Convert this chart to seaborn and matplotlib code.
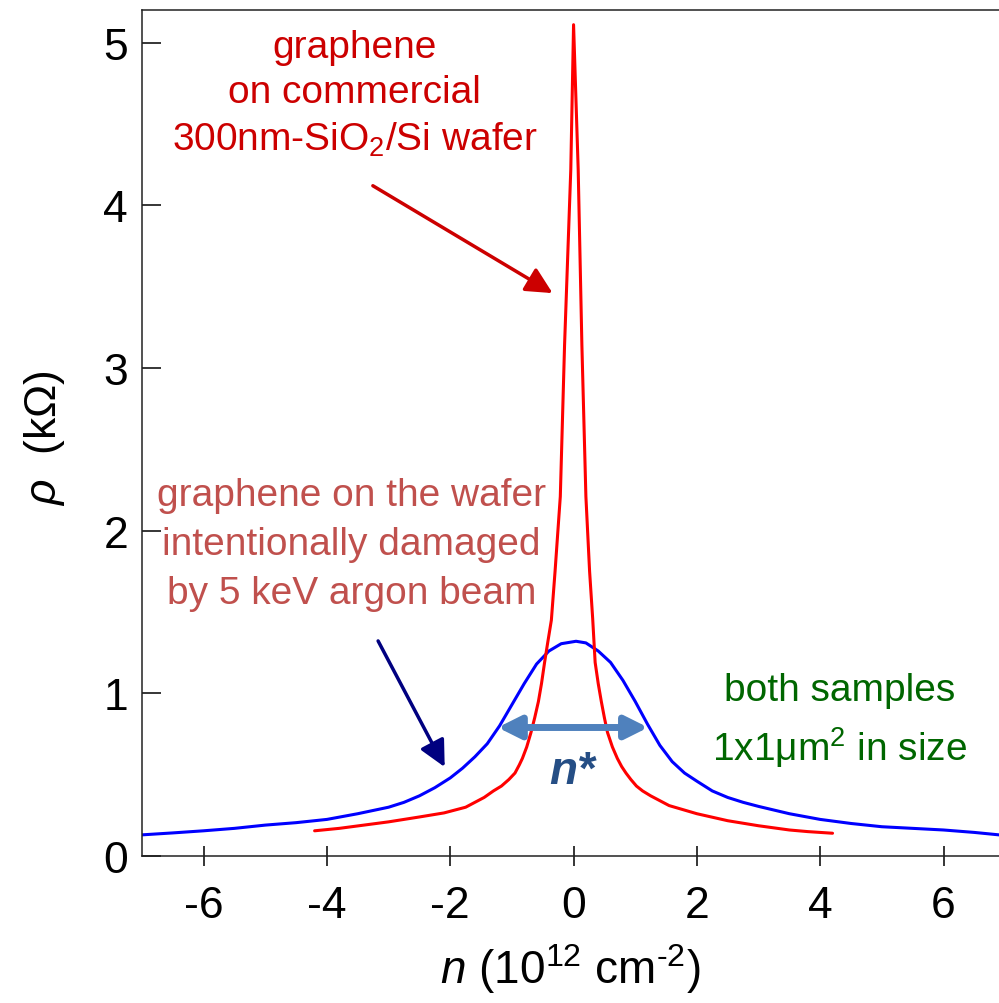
import numpy as np
import pandas as pd
import matplotlib
matplotlib.use("Agg")
import matplotlib.pyplot as plt
import seaborn as sns

# valeurs : n en 10^12 cm^-2, rho en kOhm
n_pristine = [-4.2, -3.8, -3.5, -3.0, -2.5, -2.1, -1.75, -1.45, -1.3, -1.17,
              -1.05, -0.95, -0.88, -0.83, -0.76, -0.69, -0.63, -0.57, -0.52,
              -0.47, -0.42, -0.36, -0.30, -0.215, -0.146, -0.045, 0.0,
              0.075, 0.135, 0.20, 0.26, 0.31, 0.35, 0.40, 0.45, 0.50, 0.55,
              0.63, 0.71, 0.78, 0.85, 0.93, 1.02, 1.12, 1.25, 1.55, 2.0,
              2.5, 3.0, 3.5, 3.8, 4.2]
rho_pristine = [0.155, 0.17, 0.185, 0.21, 0.24, 0.265, 0.30, 0.36, 0.40, 0.43,
                0.47, 0.51, 0.56, 0.60, 0.67, 0.76, 0.85, 0.95, 1.06,
                1.19, 1.31, 1.45, 1.75, 2.21, 3.14, 4.22, 5.11,
                4.22, 3.14, 2.21, 1.75, 1.46, 1.19, 1.06, 0.95, 0.85, 0.76,
                0.67, 0.60, 0.55, 0.51, 0.47, 0.43, 0.40, 0.37, 0.31, 0.26,
                0.217, 0.186, 0.16, 0.15, 0.14]

n_damaged = [-7.0, -6.5, -6.0, -5.5, -5.0, -4.5, -4.0, -3.5, -3.0, -2.75,
             -2.5, -2.25, -2.0, -1.8, -1.6, -1.4, -1.2, -1.0, -0.8, -0.6,
             -0.4, -0.2, 0.04, 0.2, 0.4, 0.6, 0.8, 1.0, 1.2, 1.4, 1.6, 1.8,
             2.0, 2.25, 2.5, 2.75, 3.0, 3.5, 4.0, 4.5, 5.0, 5.5, 6.0, 6.5, 6.9]
rho_damaged = [0.13, 0.142, 0.155, 0.17, 0.19, 0.205, 0.225, 0.26, 0.30, 0.33,
               0.37, 0.42, 0.48, 0.54, 0.61, 0.69, 0.80, 0.93, 1.06, 1.18,
               1.26, 1.305, 1.32, 1.31, 1.26, 1.19, 1.08, 0.95, 0.81, 0.68,
               0.58, 0.51, 0.46, 0.40, 0.36, 0.33, 0.305, 0.26, 0.225, 0.20,
               0.18, 0.17, 0.16, 0.145, 0.13]

x_ticks = [-6, -4, -2, 0, 2, 4, 6]
y_ticks = [0, 1, 2, 3, 4, 5]

df_p = pd.DataFrame({'n': n_pristine, 'rho': rho_pristine})
df_d = pd.DataFrame({'n': n_damaged, 'rho': rho_damaged})

sns.set_style("ticks")
plt.rcParams['font.family'] = ['Liberation Sans', 'DejaVu Sans']
plt.rcParams['axes.unicode_minus'] = False
plt.rcParams['mathtext.fontset'] = 'custom'
plt.rcParams['mathtext.rm'] = 'Liberation Sans'
plt.rcParams['mathtext.it'] = 'Liberation Sans:italic'
plt.rcParams['mathtext.bf'] = 'Liberation Sans:bold'
plt.rcParams['text.color'] = 'black'
plt.rcParams['axes.labelcolor'] = 'black'
plt.rcParams['xtick.color'] = 'black'
plt.rcParams['ytick.color'] = 'black'

fig = plt.figure(figsize=(9.99, 10.04), dpi=100)
ax = fig.add_axes([0.1421, 0.1464, 0.8579, 0.8426])

sns.lineplot(data=df_d, x='n', y='rho', color='#0000ff', lw=2.2,
             sort=False, estimator=None, ax=ax)
sns.lineplot(data=df_p, x='n', y='rho', color='#ff0000', lw=2.2,
             sort=False, estimator=None, ax=ax)

ax.set_xlim(-7, 6.9)
ax.set_ylim(0, 5.2)
ax.set_xticks(x_ticks)
ax.set_yticks(y_ticks)
ax.tick_params(axis='x', direction='inout', length=14.4, width=1.1,
               labelsize=32, pad=14, colors='black')
ax.tick_params(axis='y', direction='in', length=13.7, width=1.1,
               labelsize=32, pad=10, colors='black')
for s in ['left', 'bottom', 'top']:
    ax.spines[s].set_linewidth(1.1)
    ax.spines[s].set_color('#222222')
ax.spines['right'].set_visible(False)

ax.set_xlabel(r'$\mathit{n}$ (10$^{12}$ cm$^{\text{-2}}$)', fontsize=33)
ax.set_ylabel(r'$\mathit{\rho}$  (k$\Omega$)', fontsize=32)
ax.xaxis.set_label_coords(0.5, -0.100)
ax.yaxis.set_label_coords(-0.0875, 0.495)

# annotations
ax.text(-3.55, 4.686, 'graphene\non commercial\n300nm-SiO$_2$/Si wafer',
        color='#cc0000', fontsize=28, ha='center', va='center',
        linespacing=1.33)
ax.annotate('', xy=(-0.34, 3.46), xytext=(-3.255, 4.12),
            arrowprops=dict(arrowstyle='-|>', color='#cc0000', lw=2.5,
                            mutation_scale=40, shrinkA=0, shrinkB=0))

ax.text(-3.6, 1.916, 'graphene on the wafer\nintentionally damaged\nby 5 keV argon beam',
        color='#c0504d', fontsize=28, ha='center', va='center',
        linespacing=1.47)
ax.annotate('', xy=(-2.09, 0.547), xytext=(-3.17, 1.322),
            arrowprops=dict(arrowstyle='-|>', color='#000080', lw=2.5,
                            mutation_scale=40, shrinkA=0, shrinkB=0))

ax.text(4.31, 0.833, 'both samples\n1x1\u03bcm$^2$ in size',
        color='#006600', fontsize=28, ha='center', va='center',
        linespacing=1.45)

ax.annotate('', xy=(1.21, 0.79), xytext=(-1.23, 0.79),
            arrowprops=dict(arrowstyle='<|-|>', color='#4f81bd', lw=5,
                            mutation_scale=34, shrinkA=0, shrinkB=0))
ax.text(-0.03, 0.52, 'n*', color='#254e85', fontsize=33, fontweight='bold',
        fontstyle='italic', ha='center', va='center')

fig.savefig('out.png', dpi=100)
